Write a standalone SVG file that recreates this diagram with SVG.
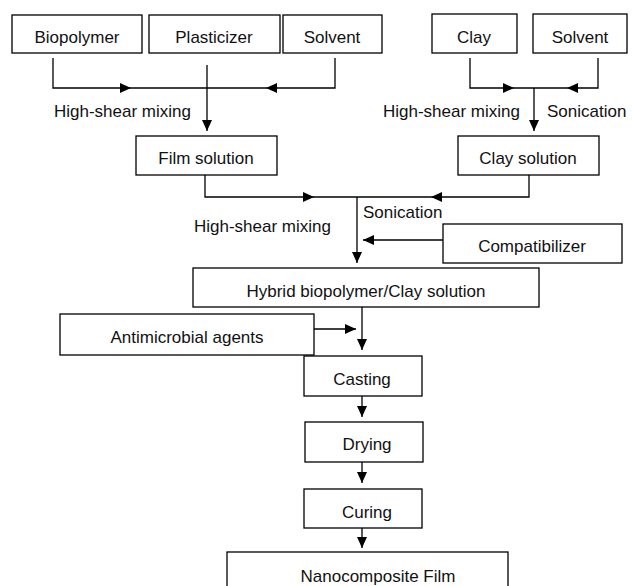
<svg xmlns="http://www.w3.org/2000/svg" width="632" height="586" viewBox="0 0 632 586">
<style>
.box{fill:#fff;stroke:#000;stroke-width:1.3}
.lbl{font-family:"Liberation Sans",Arial,sans-serif;font-size:17px;fill:#111;text-anchor:middle}
.note{font-family:"Liberation Sans",Arial,sans-serif;font-size:17px;fill:#111}
.ln{fill:none;stroke:#000;stroke-width:1.3}
</style>
<defs>
<marker id="ah" markerUnits="userSpaceOnUse" markerWidth="11" markerHeight="10" refX="11" refY="5" orient="auto">
<path d="M0,0 L11,5 L0,10 z" fill="#000"/>
</marker>
</defs>
<rect width="632" height="586" fill="#fff"/>
<g id="connectors">
<path class="ln" d="M53,58 V88 H131" marker-end="url(#ah)"/>
<path class="ln" d="M335,58 V88 H266" marker-end="url(#ah)"/>
<path class="ln" d="M131,88 H266"/>
<path class="ln" d="M207,65 V131" marker-end="url(#ah)"/>
<path class="ln" d="M470,58 V88 H514" marker-end="url(#ah)"/>
<path class="ln" d="M598,58 V88 H567" marker-end="url(#ah)"/>
<path class="ln" d="M514,88 H567"/>
<path class="ln" d="M534,88 V131" marker-end="url(#ah)"/>
<path class="ln" d="M205,175 V197 H314" marker-end="url(#ah)"/>
<path class="ln" d="M529,175 V197 H431" marker-end="url(#ah)"/>
<path class="ln" d="M314,197 H431"/>
<path class="ln" d="M357,197 V263" marker-end="url(#ah)"/>
<path class="ln" d="M443,240 H363" marker-end="url(#ah)"/>
<path class="ln" d="M362,307 V350" marker-end="url(#ah)"/>
<path class="ln" d="M310,329 H356" marker-end="url(#ah)"/>
<path class="ln" d="M362,396 V417" marker-end="url(#ah)"/>
<path class="ln" d="M362,462 V483" marker-end="url(#ah)"/>
<path class="ln" d="M362,528 V548" marker-end="url(#ah)"/>
<text class="note" x="54" y="117">High-shear mixing</text>
<text class="note" x="383" y="117">High-shear mixing</text>
<text class="note" x="547" y="117">Sonication</text>
<text class="note" x="363" y="218">Sonication</text>
<text class="note" x="194" y="232">High-shear mixing</text>
</g>
<g id="biopolymer"><rect class="box" x="12" y="15" width="130" height="38"/><text class="lbl" x="77" y="43">Biopolymer</text></g>
<g id="plasticizer"><rect class="box" x="149" y="15" width="131" height="38"/><text class="lbl" x="214" y="43">Plasticizer</text></g>
<g id="solvent1"><rect class="box" x="283" y="15" width="99" height="38"/><text class="lbl" x="332" y="43">Solvent</text></g>
<g id="clay"><rect class="box" x="432" y="14" width="85" height="39"/><text class="lbl" x="474" y="43">Clay</text></g>
<g id="solvent2"><rect class="box" x="533" y="14" width="94" height="39"/><text class="lbl" x="580" y="43">Solvent</text></g>
<g id="film-solution"><rect class="box" x="136" y="136" width="141" height="39"/><text class="lbl" x="206" y="164">Film solution</text></g>
<g id="clay-solution"><rect class="box" x="458" y="136" width="141" height="39"/><text class="lbl" x="528" y="164">Clay solution</text></g>
<g id="compatibilizer"><rect class="box" x="443" y="224" width="179" height="39"/><text class="lbl" x="532" y="252">Compatibilizer</text></g>
<g id="hybrid"><rect class="box" x="193" y="268" width="346" height="39"/><text class="lbl" x="366" y="297">Hybrid biopolymer/Clay solution</text></g>
<g id="antimicrobial"><rect class="box" x="60" y="314" width="254" height="41"/><text class="lbl" x="187" y="343">Antimicrobial agents</text></g>
<g id="casting"><rect class="box" x="304" y="356" width="118" height="40"/><text class="lbl" x="362" y="385">Casting</text></g>
<g id="drying"><rect class="box" x="305" y="422" width="118" height="40"/><text class="lbl" x="367" y="450">Drying</text></g>
<g id="curing"><rect class="box" x="304" y="489" width="118" height="39"/><text class="lbl" x="367" y="518">Curing</text></g>
<g id="nanocomposite"><rect class="box" x="227" y="552" width="281" height="45"/><text class="lbl" x="378" y="582">Nanocomposite Film</text></g>
</svg>
